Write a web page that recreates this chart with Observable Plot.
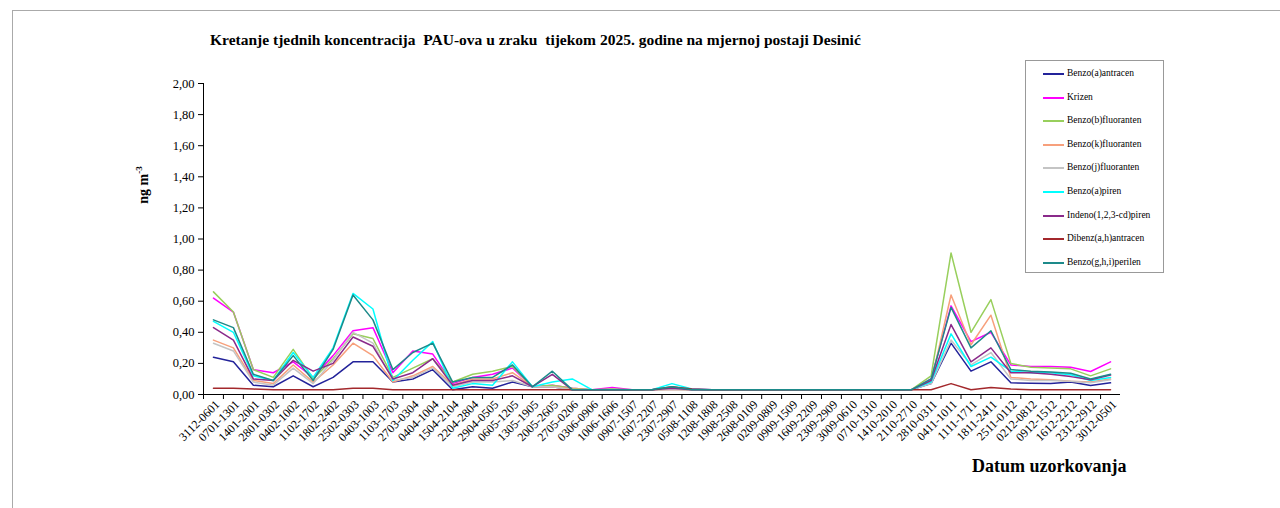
<!DOCTYPE html>
<html><head><meta charset="utf-8">
<script src="https://cdn.jsdelivr.net/npm/d3@7"></script>
<script src="https://cdn.jsdelivr.net/npm/@observablehq/plot@0.6"></script>
<style>
body{margin:0;background:#fff;}
#wrap{position:relative;width:1280px;height:508px;font-family:"Liberation Serif","Times New Roman",serif;overflow:hidden;background:#fff}
#frame{position:absolute;left:12px;top:10px;width:1300px;height:600px;border-left:1px solid #aaa;border-top:1px solid #aaa}
#title{position:absolute;left:210px;top:31px;font-size:15.5px;font-weight:bold;white-space:pre;line-height:18px}
#ylab{position:absolute;left:143px;top:185px;transform:translate(-50%,-50%) rotate(-90deg);font-size:14px;font-weight:bold;white-space:nowrap}
#ylab sup{font-size:9px}
#xlab{position:absolute;left:972px;top:456px;font-size:18px;font-weight:bold;white-space:nowrap}
#legend{position:absolute;left:1025px;top:60px;width:137px;height:211px;border:1px solid #999;background:#fff}
.li{position:absolute;left:17px;font-size:9.5px;white-space:nowrap;height:12px;line-height:12px}
.li i{display:inline-block;width:21px;height:2px;vertical-align:middle;margin-right:3px}
#chart{position:absolute;left:0;top:0}
</style></head>
<body>
<div id="wrap">
<div id="frame"></div>
<div id="chart"></div>
<div id="title">Kretanje tjednih koncentracija  PAU-ova u zraku  tijekom 2025. godine na mjernoj postaji Desinić</div>
<div id="ylab">ng m<sup>-3</sup></div>
<div id="xlab">Datum uzorkovanja</div>
<div id="legend"></div>
</div>
<script>
const dates = ["3112-0601","0701-1301","1401-2001","2801-0302","0402-1002","1102-1702","1802-2402","2502-0303","0403-1003","1103-1703","2703-0304","0404-1004","1504-2104","2204-2804","2904-0505","0605-1205","1305-1905","2005-2605","2705-0206","0306-0906","1006-1606","0907-1507","1607-2207","2307-2907","0508-1108","1208-1808","1908-2508","2608-0109","0209-0809","0909-1509","1609-2209","2309-2909","3009-0610","0710-1310","1410-2010","2110-2710","2810-0311","0411-1011","1111-1711","1811-2411","2511-0112","0212-0812","0912-1512","1612-2212","2312-2912","3012-0501"];

const seriesNames = ["Benzo(a)antracen","Krizen","Benzo(b)fluoranten","Benzo(k)fluoranten","Benzo(j)fluoranten","Benzo(a)piren","Indeno(1,2,3-cd)piren","Dibenz(a,h)antracen","Benzo(g,h,i)perilen"];
const seriesColors = ["#23239a","#ff00ff","#98cf5c","#f7a07c","#c4c4c4","#00ffff","#8a2a8a","#a3282c","#1d8a8a"];

const benzoAAntracen = [0.24,0.21,0.06,0.05,0.12,0.05,0.11,0.21,0.21,0.08,0.10,0.16,0.03,0.05,0.04,0.08,0.05,0.05,0.03,0.03,0.03,0.03,0.03,0.035,0.03,0.03,0.03,0.03,0.03,0.03,0.03,0.03,0.03,0.03,0.03,0.03,0.07,0.33,0.15,0.21,0.075,0.073,0.07,0.08,0.058,0.075];
const krizen = [0.62,0.53,0.16,0.14,0.21,0.11,0.25,0.41,0.43,0.14,0.28,0.26,0.07,0.11,0.13,0.17,0.05,0.06,0.04,0.03,0.045,0.03,0.03,0.04,0.035,0.03,0.03,0.03,0.03,0.03,0.03,0.03,0.03,0.03,0.03,0.03,0.10,0.57,0.34,0.40,0.19,0.18,0.18,0.175,0.148,0.21];
const benzoBFluoranten = [0.66,0.53,0.16,0.11,0.29,0.10,0.23,0.39,0.36,0.11,0.17,0.23,0.08,0.13,0.15,0.18,0.05,0.06,0.04,0.03,0.035,0.03,0.03,0.035,0.03,0.03,0.03,0.03,0.03,0.03,0.03,0.03,0.03,0.03,0.03,0.03,0.12,0.91,0.40,0.61,0.20,0.175,0.17,0.165,0.12,0.165];
const benzoKFluoranten = [0.35,0.30,0.09,0.07,0.19,0.08,0.19,0.33,0.25,0.08,0.12,0.18,0.06,0.10,0.10,0.14,0.05,0.05,0.035,0.03,0.03,0.03,0.03,0.03,0.03,0.03,0.03,0.03,0.03,0.03,0.03,0.03,0.03,0.03,0.03,0.03,0.08,0.64,0.32,0.51,0.11,0.10,0.095,0.085,0.08,0.10];
const benzoJFluoranten = [0.33,0.28,0.08,0.06,0.17,0.07,0.22,0.40,0.33,0.09,0.11,0.17,0.05,0.08,0.08,0.09,0.05,0.05,0.03,0.03,0.03,0.03,0.03,0.03,0.03,0.03,0.03,0.03,0.03,0.03,0.03,0.03,0.03,0.03,0.03,0.03,0.07,0.35,0.19,0.27,0.10,0.09,0.09,0.085,0.075,0.095];
const benzoAPiren = [0.47,0.40,0.12,0.09,0.27,0.11,0.30,0.65,0.55,0.09,0.22,0.34,0.04,0.07,0.06,0.21,0.05,0.08,0.10,0.03,0.03,0.03,0.03,0.07,0.035,0.03,0.03,0.03,0.03,0.03,0.03,0.03,0.03,0.03,0.03,0.03,0.08,0.39,0.18,0.24,0.15,0.14,0.14,0.127,0.09,0.11];
const indeno = [0.43,0.35,0.10,0.09,0.22,0.15,0.20,0.37,0.31,0.10,0.14,0.23,0.06,0.09,0.09,0.12,0.05,0.13,0.03,0.03,0.03,0.03,0.03,0.04,0.03,0.03,0.03,0.03,0.03,0.03,0.03,0.03,0.03,0.03,0.03,0.03,0.09,0.45,0.21,0.30,0.14,0.14,0.13,0.115,0.095,0.125];
const dibenzAHAntracen = [0.04,0.04,0.035,0.03,0.03,0.03,0.03,0.04,0.04,0.03,0.03,0.03,0.03,0.03,0.03,0.03,0.03,0.03,0.03,0.03,0.03,0.03,0.03,0.05,0.035,0.03,0.03,0.03,0.03,0.03,0.03,0.03,0.03,0.03,0.03,0.03,0.03,0.07,0.03,0.045,0.035,0.03,0.03,0.03,0.03,0.03];
const benzoGHIPerilen = [0.48,0.43,0.13,0.09,0.25,0.09,0.29,0.64,0.48,0.16,0.27,0.33,0.08,0.11,0.11,0.19,0.05,0.15,0.03,0.03,0.03,0.03,0.03,0.05,0.03,0.03,0.03,0.03,0.03,0.03,0.03,0.03,0.03,0.03,0.03,0.03,0.10,0.56,0.30,0.41,0.16,0.15,0.145,0.137,0.10,0.13];

const yTicks = [0,0.2,0.4,0.6,0.8,1.0,1.2,1.4,1.6,1.8,2.0];

const seriesValues = [benzoAAntracen,krizen,benzoBFluoranten,benzoKFluoranten,benzoJFluoranten,benzoAPiren,indeno,dibenzAHAntracen,benzoGHIPerilen];
const rows = [];
seriesNames.forEach((s,k)=>dates.forEach((d,i)=>rows.push({series:s,date:d,value:seriesValues[k][i]})));

const W=1280,H=508,ml=203,mr=160,mt=83,mb=114;
const bw=(W-ml-mr)/dates.length;

const chart = Plot.plot({
  width:W,height:H,marginLeft:ml,marginRight:mr,marginTop:mt,marginBottom:mb,
  style:{fontFamily:"'Liberation Serif','Times New Roman',serif",fontSize:"12px",background:"transparent",color:"#000"},
  x:{type:"band",domain:dates,padding:0},
  y:{domain:[0,2]},
  color:{domain:seriesNames,range:seriesColors},
  marks:[
    Plot.axisY({ticks:yTicks,tickFormat:d=>d.toFixed(2).replace(".",","),tickSize:5,tickPadding:4,label:null,fontSize:12.5,stroke:"#000"}),
    Plot.axisX({tickSize:5,tickFormat:()=>"",dx:-bw/2,label:null,stroke:"#000"}),
    Plot.axisX({tickSize:0,tickRotate:-45,tickPadding:8,label:null,fontSize:12,dx:4}),
    Plot.line(rows,{x:"date",y:"value",z:"series",stroke:"series",strokeWidth:1.5}),
    Plot.ruleY([0],{stroke:"#000"}),
    Plot.frame({anchor:"left",stroke:"#000"})
  ]
});
document.getElementById("chart").appendChild(chart);

const lg=document.getElementById("legend");
const ys=[12,36,59,83,106,130,154,177,201];
seriesNames.forEach((s,k)=>{
  const d=document.createElement("div");
  d.className="li";
  d.style.top=(ys[k]-6)+"px";
  d.innerHTML=`<i style="background:${seriesColors[k]}"></i>${s}`;
  lg.appendChild(d);
});
</script>
</body></html>
